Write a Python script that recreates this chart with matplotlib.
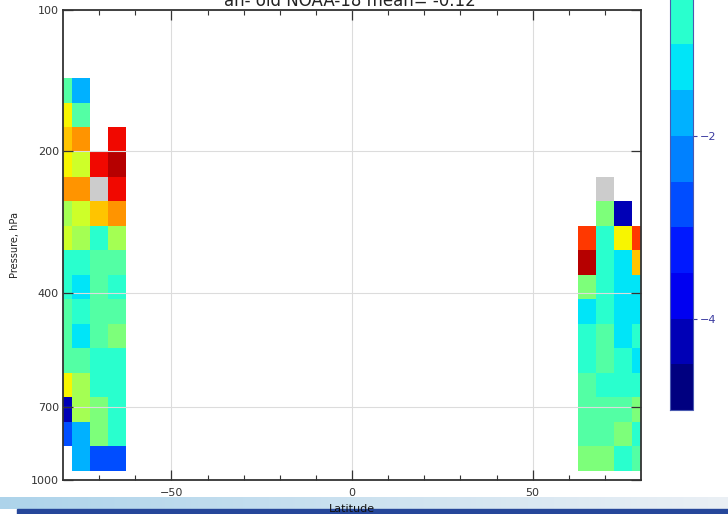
import numpy as np
import matplotlib
matplotlib.use("Agg")
import matplotlib.pyplot as plt
from matplotlib.colors import ListedColormap, BoundaryNorm
from matplotlib.patches import Rectangle

plt.rcParams['font.family'] = ['DejaVu Sans']

nan = np.nan
SKIP = 99.0   # cell flagged, drawn grey

# latitude bin centres of the two data blocks
lat_south = [-80, -75, -70, -65]
lat_north = [65, 70, 75, 80]

# pressure bin edges (hPa), top to bottom, 16 layers
p_edges = np.geomspace(139.8, 956.8, 17)

# mean difference, rows = layers from top, cols = latitudes
south = [
    [-0.25, -1.6, nan, nan],
    [1.75, -0.25, nan, nan],
    [2.25, 2.75, nan, 4.25],
    [1.75, 1.25, 4.25, 4.75],
    [2.75, 2.75, SKIP, 4.25],
    [0.75, 1.25, 2.25, 2.75],
    [1.25, 0.75, -0.75, 0.75],
    [-0.75, -0.75, -0.25, -0.25],
    [-0.75, -1.25, -0.25, -0.6],
    [-0.4, -0.75, -0.4, -0.25],
    [-0.25, -1.1, -0.25, 0.25],
    [-0.25, -0.25, -0.6, -0.6],
    [1.75, 0.75, -0.75, -0.75],
    [-4.25, 0.9, 0.25, -0.75],
    [-2.75, -1.75, 0.1, -0.75],
    [nan, -1.6, -2.75, -2.6],
]

north = [
    [nan, nan, nan, nan],
    [nan, nan, nan, nan],
    [nan, nan, nan, nan],
    [nan, nan, nan, nan],
    [nan, SKIP, nan, nan],
    [nan, 0.25, -4.25, nan],
    [3.75, -0.9, 1.5, 3.75],
    [4.75, -0.75, -1.25, 2.25],
    [0.25, -0.75, -1.25, -1.25],
    [-1.25, -0.6, -1.1, -1.4],
    [-0.75, -0.25, -1.1, -0.75],
    [-0.75, -0.4, -0.75, -1.25],
    [-0.25, -0.75, -0.75, -0.6],
    [-0.25, -0.25, -0.4, 0.25],
    [-0.4, -0.25, 0.25, -0.6],
    [0.25, 0.1, -0.75, -0.25],
]

levels = np.arange(-5, 5.01, 0.5)
title = "an- old NOAA-18 mean= -0.12"


def edges(centres, half=2.5):
    c = np.asarray(centres, dtype=float)
    return np.append(c - half, c[-1] + half)


cmap = ListedColormap(plt.cm.jet(np.arange(len(levels) - 1) / (len(levels) - 1)))
cmap.set_over('#cccccc')
norm = BoundaryNorm(levels, cmap.N)

fig = plt.figure(figsize=(7.28, 5.14), dpi=100)
ax = fig.add_axes([63 / 728, 1 - 480 / 514, 578 / 728, 470 / 514])

for lats, block in [(lat_south, south), (lat_north, north)]:
    data = np.ma.masked_invalid(np.array(block, dtype=float))
    mesh = ax.pcolormesh(edges(lats), p_edges, data, cmap=cmap, norm=norm,
                         zorder=1)

ax.set_yscale('log')
ax.set_ylim(1000, 100)
ax.set_xlim(-80, 80)
ax.set_yticks([100, 200, 400, 700, 1000])
ax.set_yticklabels(['100', '200', '400', '700', '1000'])
ax.yaxis.set_minor_locator(matplotlib.ticker.NullLocator())
ax.set_xticks([-50, 0, 50])
ax.set_xticks(np.arange(-70, 80, 10), minor=True)

ax.grid(True, which='major', color='#dcdcdc', lw=0.8, zorder=1.5)
ax.tick_params(which='both', direction='in', top=True, right=True,
               colors='#333333', labelsize=8, labelcolor='#333333')
ax.tick_params(which='major', length=7, width=0.9)
ax.tick_params(which='minor', length=3.5, width=0.8)
ax.tick_params(axis='x', pad=6)
ax.tick_params(axis='y', pad=3)
for s in ax.spines.values():
    s.set_color('#333333')
    s.set_linewidth(1.3)

ax.set_xlabel('Latitude', fontsize=8, labelpad=4, color='#111111')
ax.set_ylabel('Pressure, hPa', fontsize=7, labelpad=8, color='#222222')

# title sits at the very top edge, lower half only inside the frame
fig.text(350 / 728, 1 - 5.5 / 514, title, fontsize=12, color='#222222',
         ha='center', va='baseline')

# colour bar, only its lower part is inside the frame
cax = fig.add_axes([670 / 728, 1 - 410 / 514, 23 / 728, 914 / 514])
cb = fig.colorbar(mesh, cax=cax)
cb.set_ticks([-4, -2])
cb.set_ticklabels(['\u22124', '\u22122'])
cb.ax.minorticks_off()
cb.ax.tick_params(direction='out', length=3, width=0.8, colors='#3a3aa0',
                  labelsize=8, labelcolor='#3a3aa0', pad=2)
cb.outline.set_edgecolor('#4a5ab0')
cb.outline.set_linewidth(0.8)

# slide footer strip
fax = fig.add_axes([0, 0, 1, 17 / 514], zorder=-1)
grad = np.linspace(0, 1, 256).reshape(1, -1)
band = ListedColormap(np.vstack([np.linspace(c0, c1, 256) for c0, c1 in
                                 zip((0.68, 0.83, 0.92), (0.92, 0.94, 0.96))]).T)
fax.imshow(grad, aspect='auto', cmap=band, extent=[0, 1, 5 / 17, 1])
fax.add_patch(Rectangle((17 / 728, 0), 1, 5 / 17, color='#26479a'))
fax.set_xlim(0, 1)
fax.set_ylim(0, 1)
fax.axis('off')

fig.savefig('out.png', dpi=100)
